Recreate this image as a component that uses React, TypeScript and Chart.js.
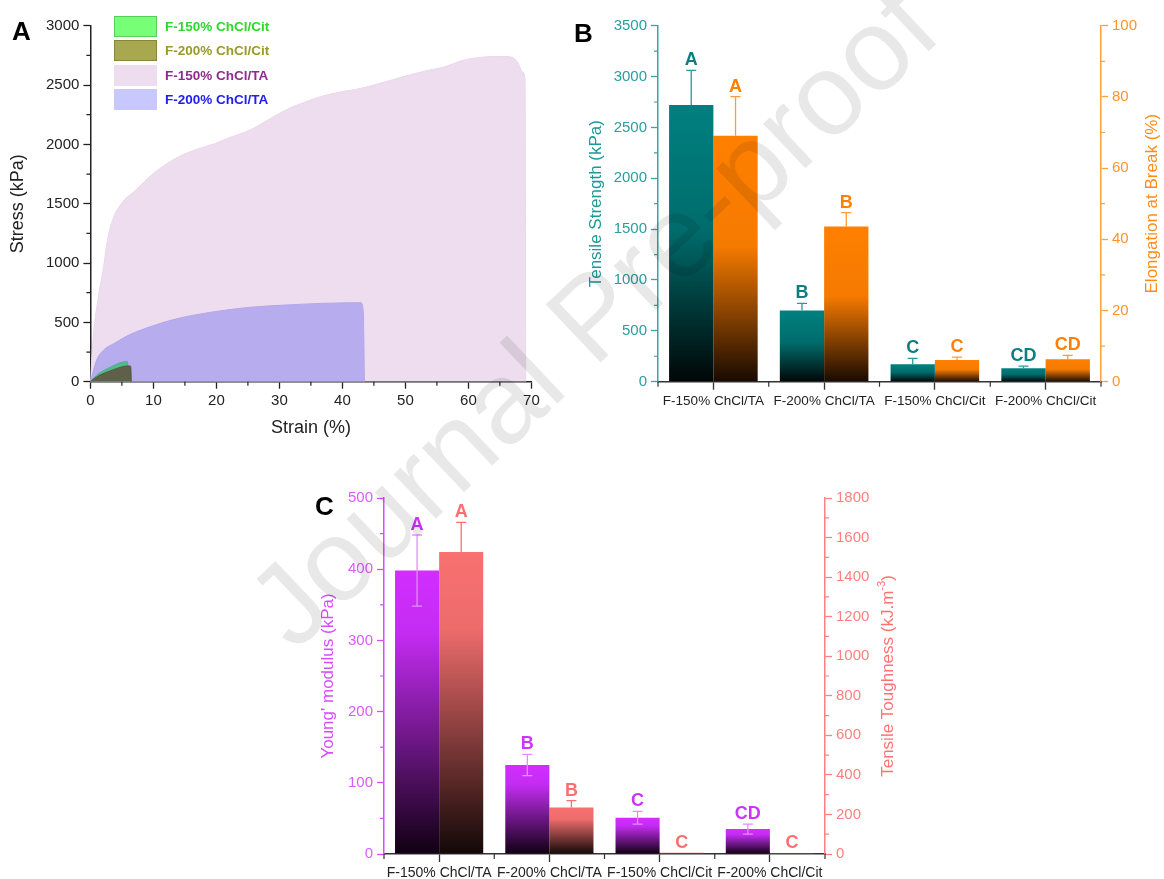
import React, { useEffect, useRef } from 'react';
import { Chart, registerables } from 'chart.js';
Chart.register(...registerables);

const FONT = '"Liberation Sans", Arial, Helvetica, sans-serif';

// ---------- Panel A data (stress-strain curves) ----------
const strain150TA = [0, 0.5, 1.2, 2.1, 2.7, 3.5, 4.9, 7.2, 10, 14, 17, 19.7, 22, 25.3, 28, 31, 34, 36.7, 40, 42.3, 45, 48, 51, 53.7, 56, 59.3, 62.2, 64, 66.1, 67.2, 67.9, 68.6, 69.0, 69.1];
const stress150TA = [0, 410, 690, 970, 1190, 1360, 1500, 1615, 1755, 1895, 1960, 2005, 2055, 2120, 2200, 2290, 2355, 2405, 2445, 2465, 2500, 2545, 2590, 2625, 2650, 2710, 2735, 2740, 2740, 2725, 2685, 2610, 2540, 0];
const strain200TA = [0, 1, 2.1, 3.8, 6.1, 9.5, 14, 19.7, 25.3, 31, 36.7, 42.9, 43.3, 43.5];
const stress200TA = [0, 183, 267, 323, 393, 463, 534, 590, 627, 646, 660, 666, 600, 0];
const strain150Cit = [0, 0.5, 1.5, 2.8, 4, 4.7, 5.5, 5.9, 6.0];
const stress150Cit = [0, 30, 75, 113, 145, 160, 168, 168, 0];
const strain200Cit = [0, 0.5, 1.5, 2.8, 4, 5.4, 6.2, 6.4, 6.5];
const stress200Cit = [0, 22, 55, 84, 108, 130, 133, 128, 0];

// ---------- Panels B & C data ----------
const categories = ['F-150% ChCl/TA', 'F-200% ChCl/TA', 'F-150% ChCl/Cit', 'F-200% ChCl/Cit'];
const tensileStrength = [2720, 700, 172, 132];
const tensileStrengthErr = [340, 70, 58, 22];
const tensileLetters = ['A', 'B', 'C', 'CD'];
const elongation = [69.1, 43.6, 6.1, 6.3];
const elongationErr = [11, 3.9, 0.8, 1.1];
const elongationLetters = ['A', 'B', 'C', 'CD'];
const youngModulus = [398, 125, 51, 35];
const youngModulusErr = [50, 15, 9, 7];
const youngLetters = ['A', 'B', 'C', 'CD'];
const toughness = [1527, 235, 6, 4];
const toughnessErr = [150, 35, 0, 0];
const toughnessLetters = ['A', 'B', 'C', 'C'];

const toXY = (xs: number[], ys: number[]) => xs.map((x, i) => ({ x, y: ys[i] }));
const plainNum = (v: any) => String(v);

function barGradient(top: string, mid: string, bottom: string, midStop: number) {
  return (ctx: any) => {
    const chart = ctx.chart;
    if (!chart.chartArea || ctx.type !== 'data') return top;
    const meta = chart.getDatasetMeta(ctx.datasetIndex);
    const sc = chart.scales[meta.yAxisID];
    if (!sc) return top;
    const y0 = sc.getPixelForValue(ctx.raw as number);
    const y1 = sc.getPixelForValue(0);
    if (!isFinite(y0) || !isFinite(y1) || y1 - y0 < 1) return top;
    const g = chart.ctx.createLinearGradient(0, y0, 0, y1);
    g.addColorStop(0, top);
    g.addColorStop(midStop, mid);
    g.addColorStop(1, bottom);
    return g;
  };
}

const barDecoPlugin = {
  id: 'barDeco',
  afterDatasetsDraw(chart: any, _a: any, opts: any) {
    const sets = opts.sets || [];
    const ctx = chart.ctx;
    sets.forEach((s: any, di: number) => {
      const meta = chart.getDatasetMeta(di);
      const scale = chart.scales[meta.yAxisID];
      const values = chart.data.datasets[di].data;
      meta.data.forEach((bar: any, i: number) => {
        const v = values[i];
        const e = s.err[i];
        const x = bar.x;
        const cap = 5;
        const yTop = scale.getPixelForValue(v + e);
        const yLow = scale.getPixelForValue(s.both ? v - e : v);
        ctx.save();
        if (e > 0) {
          ctx.strokeStyle = s.errColor;
          ctx.lineWidth = 1.3;
          ctx.beginPath();
          ctx.moveTo(x, yLow);
          ctx.lineTo(x, yTop);
          ctx.moveTo(x - cap, yTop);
          ctx.lineTo(x + cap, yTop);
          if (s.both) {
            ctx.moveTo(x - cap, yLow);
            ctx.lineTo(x + cap, yLow);
          }
          ctx.stroke();
        }
        ctx.fillStyle = s.letterColor;
        ctx.font = 'bold 18px ' + FONT;
        ctx.textAlign = 'center';
        ctx.textBaseline = 'alphabetic';
        ctx.fillText(s.letters[i], x, yTop - 5);
        ctx.restore();
      });
    });
  },
};

const minorTicksPlugin = {
  id: 'minorTicks',
  afterDraw(chart: any, _a: any, opts: any) {
    const ctx = chart.ctx;
    (opts.axes || []).forEach((a: any) => {
      const sc = chart.scales[a.id];
      if (!sc) return;
      const vals: number[] = [];
      if (a.boundaries) {
        for (let i = 0; i <= sc.max - sc.min + 1; i++) vals.push(sc.min + i - 0.5);
      } else {
        for (let v = sc.min + a.step; v < sc.max; v += 2 * a.step) vals.push(v);
      }
      ctx.save();
      ctx.strokeStyle = a.color;
      ctx.lineWidth = 1.2;
      ctx.beginPath();
      vals.forEach((v) => {
        const p = sc.getPixelForValue(v);
        if (sc.isHorizontal()) {
          ctx.moveTo(p, sc.top);
          ctx.lineTo(p, sc.top + a.len);
        } else if (sc.position === 'left') {
          ctx.moveTo(sc.right - a.len, p);
          ctx.lineTo(sc.right, p);
        } else {
          ctx.moveTo(sc.left, p);
          ctx.lineTo(sc.left + a.len, p);
        }
      });
      ctx.stroke();
      ctx.restore();
    });
  },
};

const sideTitlePlugin = {
  id: 'sideTitle',
  afterDraw(chart: any, _a: any, opts: any) {
    if (!opts.parts) return;
    const ctx = chart.ctx;
    const ca = chart.chartArea;
    const cy = (ca.top + ca.bottom) / 2;
    ctx.save();
    ctx.translate(opts.x, cy);
    ctx.rotate(-Math.PI / 2);
    ctx.fillStyle = opts.color;
    ctx.textBaseline = 'middle';
    ctx.textAlign = 'left';
    let total = 0;
    const widths = opts.parts.map((p: any) => {
      ctx.font = `${p.sup ? Math.round(opts.size * 0.62) : opts.size}px ${FONT}`;
      const w = ctx.measureText(p.t).width;
      total += w;
      return w;
    });
    let x = -total / 2;
    opts.parts.forEach((p: any, i: number) => {
      ctx.font = `${p.sup ? Math.round(opts.size * 0.62) : opts.size}px ${FONT}`;
      ctx.fillText(p.t, x, p.sup ? -opts.size * 0.38 : 0);
      x += widths[i];
    });
    ctx.restore();
  },
};

function yAxis(opts: any) {
  return {
    type: 'linear',
    position: opts.position,
    min: opts.min,
    max: opts.max,
    afterFit: (s: any) => { s.width = opts.width; },
    ticks: { stepSize: opts.step, color: opts.labelColor, font: { family: FONT, size: 15 }, padding: 4, callback: plainNum },
    grid: { drawOnChartArea: false, drawTicks: true, tickLength: 7, tickColor: opts.color, tickWidth: 1.3 },
    border: { display: true, color: opts.color, width: 1.5 },
    title: opts.title
      ? { display: true, text: opts.title, color: opts.titleColor, font: { family: FONT, size: opts.titleSize }, padding: { top: opts.titlePad, bottom: 0 } }
      : { display: false },
  };
}

function categoryAxis(height: number, fontSize: number) {
  return {
    type: 'category',
    offset: true,
    afterFit: (s: any) => { s.height = height; },
    ticks: { color: '#222', font: { family: FONT, size: fontSize }, maxRotation: 0, autoSkip: false, padding: 3 },
    grid: { drawOnChartArea: false, drawTicks: true, tickLength: 8, offset: false, tickColor: '#333', tickWidth: 1.3 },
    border: { display: true, color: '#333', width: 1.5 },
  };
}

function configA(): any {
  return {
    type: 'line',
    data: {
      datasets: [
        { label: 'F-200% ChCl/Cit', data: toXY(strain200Cit, stress200Cit), backgroundColor: '#5E6047', borderColor: '#55573f', fill: 'origin' },
        { label: 'F-150% ChCl/Cit', data: toXY(strain150Cit, stress150Cit), backgroundColor: '#52B98E', borderColor: '#4fb38a', fill: 'origin' },
        { label: 'F-200% ChCl/TA', data: toXY(strain200TA, stress200TA), backgroundColor: '#B7ACEE', borderColor: '#B2A7EA', fill: 'origin' },
        { label: 'F-150% ChCl/TA', data: toXY(strain150TA, stress150TA), backgroundColor: '#EDDDEE', borderColor: '#E9D8EA', fill: 'origin' },
      ].map((d) => ({ ...d, pointRadius: 0, borderWidth: 1, cubicInterpolationMode: 'monotone' })),
    },
    options: {
      responsive: false,
      animation: false,
      devicePixelRatio: 1,
      layout: { padding: { top: 25.7, right: 28.6, left: 0, bottom: 0 } },
      plugins: {
        legend: { display: false },
        tooltip: { enabled: false },
        minorTicks: { axes: [{ id: 'x', step: 5, len: 4, color: '#222' }, { id: 'y', step: 250, len: 4, color: '#222' }] },
      },
      scales: {
        x: {
          type: 'linear',
          min: 0,
          max: 70,
          afterFit: (s: any) => { s.height = 58.3; },
          ticks: { stepSize: 10, color: '#222', font: { family: FONT, size: 15 }, padding: 3, callback: plainNum },
          grid: { drawOnChartArea: false, drawTicks: true, tickLength: 7, tickColor: '#222', tickWidth: 1.3 },
          border: { display: true, color: '#222', width: 1.5 },
          title: { display: true, text: 'Strain (%)', color: '#222', font: { family: FONT, size: 18 }, padding: { top: 0, bottom: 1 } },
        },
        y: yAxis({ position: 'left', min: 0, max: 3000, step: 500, width: 90.4, color: '#222', labelColor: '#222', title: 'Stress (kPa)', titleColor: '#222', titleSize: 18, titlePad: 7 }),
      },
    },
    plugins: [minorTicksPlugin],
  };
}

function configB(): any {
  return {
    type: 'bar',
    data: {
      labels: categories,
      datasets: [
        { label: 'Tensile Strength', data: tensileStrength, yAxisID: 'y', backgroundColor: barGradient('#008080', '#006C6C', '#000606', 0.45) },
        { label: 'Elongation at Break', data: elongation, yAxisID: 'y1', backgroundColor: barGradient('#FF8000', '#F57A00', '#180A00', 0.45) },
      ].map((d) => ({ ...d, categoryPercentage: 0.8, barPercentage: 1.0, borderWidth: 0 })),
    },
    options: {
      responsive: false,
      animation: false,
      devicePixelRatio: 1,
      layout: { padding: { top: 25.7, right: 0, left: 0, bottom: 0 } },
      plugins: {
        legend: { display: false },
        tooltip: { enabled: false },
        barDeco: {
          sets: [
            { err: tensileStrengthErr, both: false, errColor: '#2A9A9A', letters: tensileLetters, letterColor: '#0B7F7F' },
            { err: elongationErr, both: false, errColor: '#FF9A3A', letters: elongationLetters, letterColor: '#FF8000' },
          ],
        },
        minorTicks: {
          axes: [
            { id: 'x', boundaries: true, len: 5, color: '#333' },
            { id: 'y', step: 250, len: 4, color: '#3AA3A3' },
            { id: 'y1', step: 10, len: 4, color: '#FFA040' },
          ],
        },
        sideTitle: { parts: [{ t: 'Elongation at Break (%)' }], x: 592, color: '#FF8C1A', size: 17 },
      },
      scales: {
        x: categoryAxis(58.3, 13.5),
        y: yAxis({ position: 'left', min: 0, max: 3500, step: 500, width: 98, color: '#3AA3A3', labelColor: '#2A9D9D', title: 'Tensile Strength (kPa)', titleColor: '#1F9898', titleSize: 17, titlePad: 26 }),
        y1: yAxis({ position: 'right', min: 0, max: 100, step: 20, width: 63, color: '#FFA040', labelColor: '#FF9426' }),
      },
    },
    plugins: [barDecoPlugin, minorTicksPlugin, sideTitlePlugin],
  };
}

function configC(): any {
  return {
    type: 'bar',
    data: {
      labels: categories,
      datasets: [
        { label: "Young' modulus", data: youngModulus, yAxisID: 'y', backgroundColor: barGradient('#D22EFF', '#C42CF2', '#100012', 0.22) },
        { label: 'Tensile Toughness', data: toughness, yAxisID: 'y1', backgroundColor: barGradient('#F87070', '#EE6C6C', '#120807', 0.25) },
      ].map((d) => ({ ...d, categoryPercentage: 0.8, barPercentage: 1.0, borderWidth: 0 })),
    },
    options: {
      responsive: false,
      animation: false,
      devicePixelRatio: 1,
      layout: { padding: { top: 28, right: 0, left: 0, bottom: 0 } },
      plugins: {
        legend: { display: false },
        tooltip: { enabled: false },
        barDeco: {
          sets: [
            { err: youngModulusErr, both: true, errColor: '#E68CFF', letters: youngLetters, letterColor: '#CC33FF' },
            { err: toughnessErr, both: false, errColor: '#F87070', letters: toughnessLetters, letterColor: '#F87070' },
          ],
        },
        minorTicks: {
          axes: [
            { id: 'x', boundaries: true, len: 5, color: '#333' },
            { id: 'y', step: 50, len: 4, color: '#D84DFF' },
            { id: 'y1', step: 100, len: 4, color: '#FF8080' },
          ],
        },
        sideTitle: {
          parts: [{ t: 'Tensile Toughness (kJ.m' }, { t: '-3', sup: true }, { t: ')' }],
          x: 588,
          color: '#FF7373',
          size: 17,
        },
      },
      scales: {
        x: categoryAxis(25, 14),
        y: yAxis({ position: 'left', min: 0, max: 500, step: 100, width: 84, color: '#D84DFF', labelColor: '#D95CFF', title: "Young' modulus (kPa)", titleColor: '#D94DFF', titleSize: 17, titlePad: 18 }),
        y1: yAxis({ position: 'right', min: 0, max: 1800, step: 200, width: 85, color: '#FF8080', labelColor: '#FF7F7F' }),
      },
    },
    plugins: [barDecoPlugin, minorTicksPlugin, sideTitlePlugin],
  };
}

function ChartCanvas({ make, left, top, width, height }: { make: () => any; left: number; top: number; width: number; height: number }) {
  const ref = useRef<HTMLCanvasElement>(null);
  useEffect(() => {
    const chart = new Chart(ref.current as HTMLCanvasElement, make());
    return () => chart.destroy();
  }, []);
  return <canvas ref={ref} width={width} height={height} style={{ position: 'absolute', left, top, width, height }} />;
}

const legendItems = [
  { label: 'F-150% ChCl/Cit', fill: '#77FF77', border: '#5ACC5A', text: '#2BD92B' },
  { label: 'F-200% ChCl/Cit', fill: '#A8A850', border: '#86863A', text: '#9A9A28' },
  { label: 'F-150% ChCl/TA', fill: '#EEDDEE', border: '#EEDDEE', text: '#8E2C8E' },
  { label: 'F-200% ChCl/TA', fill: '#C8C8FF', border: '#C8C8FF', text: '#2020F0' },
];

const panelLabel = (text: string, left: number, top: number) => (
  <div style={{ position: 'absolute', left, top, fontFamily: FONT, fontWeight: 'bold', fontSize: 26, lineHeight: 1, color: '#000' }}>{text}</div>
);

export default function App() {
  return (
    <div style={{ position: 'fixed', left: 0, top: 0, width: 1164, height: 879, background: '#fff', overflow: 'hidden' }}>
      <ChartCanvas make={configA} left={0} top={0} width={560} height={440} />
      <ChartCanvas make={configB} left={560} top={0} width={604} height={440} />
      <ChartCanvas make={configC} left={300} top={470} width={610} height={409} />
      {legendItems.map((it, i) => (
        <div key={it.label} style={{ position: 'absolute', left: 114, top: 16 + i * 24.4, height: 21, display: 'flex', alignItems: 'center' }}>
          <div style={{ width: 41, height: 19, background: it.fill, border: `1px solid ${it.border}` }} />
          <span style={{ marginLeft: 8, fontFamily: FONT, fontWeight: 'bold', fontSize: 13.5, color: it.text, whiteSpace: 'nowrap' }}>{it.label}</span>
        </div>
      ))}
      {panelLabel('A', 12, 18)}
      {panelLabel('B', 574, 20)}
      {panelLabel('C', 315, 493)}
      <div
        style={{
          position: 'absolute',
          left: 227,
          top: 582,
          fontFamily: FONT,
          fontSize: 116,
          lineHeight: 1,
          color: 'rgba(0,0,0,0.09)',
          whiteSpace: 'nowrap',
          transform: 'rotate(-43.5deg)',
          transformOrigin: '0 0',
          pointerEvents: 'none',
        }}
      >
        Journal Pre-proof
      </div>
    </div>
  );
}
